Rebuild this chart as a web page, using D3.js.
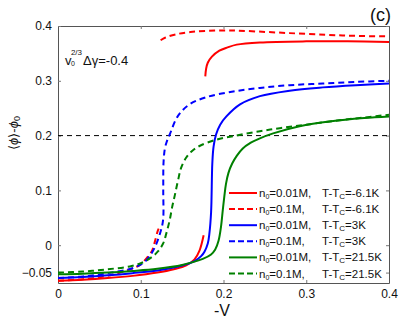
<!DOCTYPE html>
<html>
<head>
<meta charset="utf-8">
<script src="https://cdn.jsdelivr.net/npm/d3@7"></script>
<style>
  body { margin: 0; background: #fff; }
  text { font-family: "Liberation Sans", Arial, sans-serif; fill: #111; }
</style>
</head>
<body>
<script>
// -V values and <phi>-phi0 values, one array per curve segment
const redSolidLow = [[0,-0.065],[0.03,-0.063],[0.06,-0.06],[0.09,-0.056],[0.12,-0.05],[0.14,-0.044],[0.155,-0.037],[0.165,-0.026],[0.171,-0.01],[0.176,0.018]];
const redSolidHigh = [[0.178,0.308],[0.179,0.322],[0.181,0.333],[0.186,0.344],[0.195,0.355],[0.205,0.361],[0.216,0.366],[0.244,0.37],[0.3,0.372],[0.35,0.372],[0.4,0.371]];
const redDashLow = [[0,-0.065],[0.03,-0.062],[0.06,-0.056],[0.089,-0.043],[0.099,-0.036],[0.108,-0.022],[0.114,-0.009],[0.117,0.006],[0.121,0.028],[0.124,0.037]];
const redDashHigh = [[0.124,0.374],[0.13,0.379],[0.143,0.385],[0.16,0.389],[0.18,0.391],[0.207,0.392],[0.24,0.39],[0.28,0.387],[0.324,0.384],[0.36,0.382],[0.4,0.381]];
const blueSolid = [[0,-0.06],[0.03,-0.058],[0.06,-0.055],[0.09,-0.051],[0.12,-0.046],[0.15,-0.037],[0.165,-0.029],[0.173,-0.02],[0.177,-0.012],[0.181,0.003],[0.183,0.022],[0.185,0.06],[0.1865,0.15],[0.188,0.18],[0.191,0.202],[0.196,0.22],[0.2035,0.235],[0.22,0.257],[0.244,0.272],[0.28,0.282],[0.32,0.288],[0.36,0.292],[0.4,0.295]];
const blueDash = [[0,-0.06],[0.03,-0.057],[0.06,-0.051],[0.09,-0.042],[0.105,-0.03],[0.113,-0.015],[0.119,0.003],[0.124,0.025],[0.127,0.046],[0.1272,0.1],[0.1275,0.15],[0.129,0.175],[0.131,0.187],[0.135,0.202],[0.145,0.236],[0.159,0.257],[0.179,0.27],[0.21,0.28],[0.244,0.287],[0.28,0.292],[0.32,0.295],[0.36,0.298],[0.4,0.3]];
const greenSolid = [[0,-0.053],[0.03,-0.052],[0.06,-0.05],[0.09,-0.047],[0.12,-0.043],[0.15,-0.036],[0.175,-0.025],[0.185,-0.017],[0.19,-0.008],[0.194,0.008],[0.197,0.034],[0.199,0.062],[0.201,0.089],[0.203,0.112],[0.206,0.132],[0.2105,0.149],[0.216,0.163],[0.223,0.176],[0.233,0.187],[0.244,0.195],[0.26,0.204],[0.292,0.217],[0.33,0.226],[0.37,0.232],[0.4,0.235]];
const greenDash = [[0,-0.05],[0.03,-0.048],[0.06,-0.044],[0.089,-0.038],[0.103,-0.031],[0.114,-0.021],[0.121,-0.011],[0.127,0.003],[0.131,0.022],[0.135,0.046],[0.138,0.07],[0.141,0.09],[0.145,0.118],[0.149,0.142],[0.155,0.16],[0.162,0.172],[0.171,0.181],[0.19,0.192],[0.215,0.2],[0.244,0.208],[0.27,0.214],[0.3,0.22],[0.34,0.228],[0.37,0.233],[0.4,0.238]];

const xTicks = [0, 0.1, 0.2, 0.3, 0.4];
const yTicks = [-0.05, 0, 0.1, 0.2, 0.3, 0.4];
const concLabels = ["0.01M,", "0.1M,", "0.01M,", "0.1M,", "0.01M,", "0.1M,"];
const tempLabels = ["-6.1K", "-6.1K", "3K", "3K", "21.5K", "21.5K"];
const colors = ["#ff0000", "#ff0000", "#0000ff", "#0000ff", "#008000", "#008000"];
const dashed = [false, true, false, true, false, true];
const threshold = 0.2;

const W = 419, H = 319;
const m = { left: 58, right: 30, top: 26, bottom: 36 };

const svg = d3.select("body").append("svg")
    .attr("width", W)
    .attr("height", H);

const x = d3.scaleLinear().domain([0, 0.4]).range([m.left, W - m.right]);
const y = d3.scaleLinear().domain([-0.069, 0.4]).range([H - m.bottom, m.top]);

const fmt = d => d === 0 ? "0" : (d < 0 ? "\u2212" + Math.abs(d) : String(d));

// axes, ticks pointing inward, mirrored on top/right
const axisStyle = g => {
    g.select(".domain").attr("stroke", "#555");
    g.selectAll(".tick line").attr("stroke", "#777");
    g.selectAll(".tick text").attr("font-size", 12).attr("fill", "#111")
        .attr("font-family", "Liberation Sans, Arial, sans-serif");
};

svg.append("g").attr("transform", `translate(0,${H - m.bottom})`)
    .call(d3.axisBottom(x).tickValues(xTicks).tickSizeInner(-3).tickSizeOuter(0).tickPadding(6).tickFormat(fmt))
    .call(axisStyle);
svg.append("g").attr("transform", `translate(0,${m.top})`)
    .call(d3.axisTop(x).tickValues(xTicks).tickSizeInner(-3).tickSizeOuter(0).tickFormat(""))
    .call(axisStyle);
svg.append("g").attr("transform", `translate(${m.left},0)`)
    .call(d3.axisLeft(y).tickValues(yTicks).tickSizeInner(-3).tickSizeOuter(0).tickPadding(6).tickFormat(fmt))
    .call(axisStyle);
svg.append("g").attr("transform", `translate(${W - m.right},0)`)
    .call(d3.axisRight(y).tickValues(yTicks).tickSizeInner(-3).tickSizeOuter(0).tickFormat(""))
    .call(axisStyle);

// threshold line
svg.append("line")
    .attr("x1", x(0)).attr("x2", x(0.4))
    .attr("y1", y(threshold)).attr("y2", y(threshold))
    .attr("stroke", "#000").attr("stroke-width", 1).attr("stroke-dasharray", "5,4");

svg.append("clipPath").attr("id", "plot")
    .append("rect")
    .attr("x", x(0)).attr("y", y(0.4))
    .attr("width", x(0.4) - x(0)).attr("height", y(-0.069) - y(0.4));

const lineY = d3.line().x(d => x(d[0])).y(d => y(d[1])).curve(d3.curveCatmullRom.alpha(0.5));

const curves = [
    { data: redSolidLow, k: 0 }, { data: redSolidHigh, k: 0 },
    { data: redDashLow, k: 1 }, { data: redDashHigh, k: 1 },
    { data: blueSolid, k: 2 }, { data: blueDash, k: 3 },
    { data: greenSolid, k: 4 }, { data: greenDash, k: 5 }
];

svg.append("g").attr("clip-path", "url(#plot)")
    .selectAll("path").data(curves).enter()
    .append("path")
    .attr("fill", "none")
    .attr("stroke", d => colors[d.k])
    .attr("stroke-width", 2)
    .attr("stroke-dasharray", d => dashed[d.k] ? "6,4" : null)
    .attr("d", d => lineY(d.data));

// legend
const leg = svg.append("g");
const rowY = i => 193 + i * 16.1;
leg.selectAll("line").data(colors).enter()
    .append("line")
    .attr("x1", 229).attr("x2", 257)
    .attr("y1", (d, i) => rowY(i)).attr("y2", (d, i) => rowY(i))
    .attr("stroke", d => d).attr("stroke-width", 2)
    .attr("stroke-dasharray", (d, i) => dashed[i] ? "6,3" : null);

const t1 = leg.selectAll("text.c").data(concLabels).enter()
    .append("text").attr("class", "c")
    .attr("x", 259).attr("y", (d, i) => rowY(i) + 4)
    .attr("font-size", 11.5);
t1.append("tspan").text("n");
t1.append("tspan").attr("font-size", 7).attr("dy", 2).text("0");
t1.append("tspan").attr("dy", -2).text(d => "=" + d);

const t2 = leg.selectAll("text.t").data(tempLabels).enter()
    .append("text").attr("class", "t")
    .attr("x", 322).attr("y", (d, i) => rowY(i) + 4)
    .attr("font-size", 11.5);
t2.append("tspan").text("T-T");
t2.append("tspan").attr("font-size", 8).attr("dy", 2).text("C");
t2.append("tspan").attr("dy", -2).text(d => "=" + d);

// annotation
const ann = svg.append("text").attr("x", 65).attr("y", 65).attr("font-size", 13);
ann.append("tspan").text("v");
ann.append("tspan").attr("font-size", 7).attr("dy", 1).attr("dx", -0.5).text("0");
ann.append("tspan").attr("font-size", 8).attr("dy", -11).attr("dx", -4).text("2/3");
ann.append("tspan").attr("dy", 10).attr("dx", 1).text("\u0394\u03b3=-0.4");

// panel label
svg.append("text").attr("x", 391).attr("y", 21).attr("text-anchor", "end")
    .attr("font-size", 18).text("(c)");

// axis titles
svg.append("text").attr("x", 222).attr("y", 316)
    .attr("text-anchor", "middle").attr("font-size", 16).text("-V");

const yl = svg.append("text")
    .attr("transform", `translate(18,133) rotate(-90)`)
    .attr("text-anchor", "middle").attr("font-size", 13);
yl.append("tspan").text("\u27e8");
yl.append("tspan").attr("font-style", "italic").text("\u03d5");
yl.append("tspan").text("\u27e9-");
yl.append("tspan").attr("font-style", "italic").text("\u03d5");
yl.append("tspan").attr("font-size", 9).attr("dy", 2).text("0");
</script>
</body>
</html>
